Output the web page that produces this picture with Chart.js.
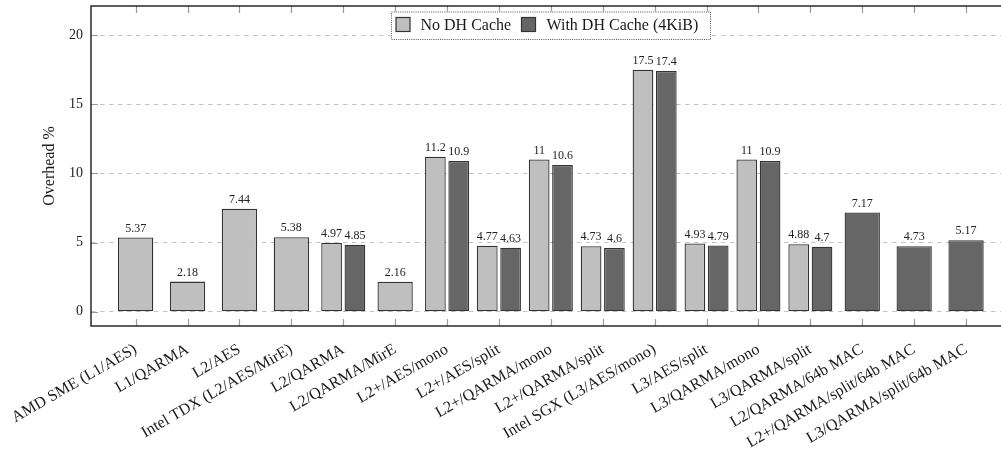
<!DOCTYPE html>
<html>
<head>
<meta charset="utf-8">
<script src="https://cdn.jsdelivr.net/npm/chart.js@4.4.1/dist/chart.umd.min.js"></script>
<style>
  html, body { margin: 0; padding: 0; background: #fff; overflow: hidden; }
  #wrap { width: 1020px; height: 452px; }
</style>
</head>
<body>
<div id="wrap"><canvas id="chart" width="1020" height="452"></canvas></div>
<script>
// categories along the x axis
const categories = [
  'AMD SME (L1/AES)', 'L1/QARMA', 'L2/AES', 'Intel TDX (L2/AES/MirE)', 'L2/QARMA',
  'L2/QARMA/MirE', 'L2+/AES/mono', 'L2+/AES/split', 'L2+/QARMA/mono', 'L2+/QARMA/split',
  'Intel SGX (L3/AES/mono)', 'L3/AES/split', 'L3/QARMA/mono', 'L3/QARMA/split',
  'L2/QARMA/64b MAC', 'L2+/QARMA/split/64b MAC', 'L3/QARMA/split/64b MAC'
];
// overhead % without the DH cache
const noCache = [5.37, 2.18, 7.44, 5.38, 4.97, 2.16, 11.2, 4.77, 11, 4.73, 17.5, 4.93, 11, 4.88, null, null, null];
// overhead % with a 4KiB DH cache
const withCache = [null, null, null, null, 4.85, null, 10.9, 4.63, 10.6, 4.6, 17.4, 4.79, 10.9, 4.7, 7.17, 4.73, 5.17];
const yTicks = [0, 5, 10, 15, 20];

const serif = '"Liberation Serif", "DejaVu Serif", serif';

const toPoints = arr => arr.map((v, i) => ({ x: i, y: v }));

const noPad = s => { s.paddingLeft = 0; s.paddingRight = 0; s.paddingTop = 0; s.paddingBottom = 0; };

// frame, inner tick marks, value labels and legend
const decor = {
  id: 'decor',
  afterDatasetsDraw(chart) {
    const { ctx, chartArea: a, scales: { x, y } } = chart;
    ctx.save();
    // value labels
    ctx.font = '12px ' + serif;
    ctx.fillStyle = '#222';
    ctx.textAlign = 'center';
    ctx.textBaseline = 'bottom';
    chart.data.datasets.forEach((ds, di) => {
      chart.getDatasetMeta(di).data.forEach((bar, i) => {
        const v = ds.data[i].y;
        if (v == null) return;
        ctx.fillText(String(v), bar.x, bar.y - 3);
      });
    });
    // inner tick marks
    ctx.strokeStyle = '#999';
    ctx.lineWidth = 1.2;
    ctx.beginPath();
    categories.forEach((c, i) => {
      const px = Math.round(x.getPixelForValue(i)) + 0.5;
      ctx.moveTo(px, a.bottom); ctx.lineTo(px, a.bottom - 7);
      ctx.moveTo(px, a.top); ctx.lineTo(px, a.top + 7);
    });
    yTicks.forEach(t => {
      const py = Math.round(y.getPixelForValue(t)) + 0.5;
      ctx.moveTo(a.left, py); ctx.lineTo(a.left + 7, py);
      ctx.moveTo(a.right, py); ctx.lineTo(a.right - 7, py);
    });
    ctx.stroke();
    // frame
    ctx.strokeStyle = '#1a1a1a';
    ctx.lineWidth = 1.4;
    ctx.strokeRect(a.left, a.top, a.right - a.left, a.bottom - a.top);
    // legend
    const lx = 391, ly = 11.5, lw = 319, lh = 27.5;
    ctx.fillStyle = '#fff';
    ctx.fillRect(lx, ly, lw, lh);
    ctx.setLineDash([1, 1.2]);
    ctx.strokeStyle = '#555';
    ctx.lineWidth = 1;
    ctx.strokeRect(lx + 0.5, ly + 0.5, lw, lh);
    ctx.setLineDash([]);
    const items = [
      { text: 'No DH Cache', color: '#bfbfbf', sx: 396, tx: 420.5 },
      { text: 'With DH Cache (4KiB)', color: '#666666', sx: 521.5, tx: 546.5 }
    ];
    ctx.font = '16px ' + serif;
    ctx.textAlign = 'left';
    ctx.textBaseline = 'middle';
    items.forEach(it => {
      ctx.fillStyle = it.color;
      ctx.fillRect(it.sx, 17.5, 14, 14);
      ctx.strokeStyle = '#333';
      ctx.lineWidth = 1.2;
      ctx.strokeRect(it.sx, 17.5, 14, 14);
      ctx.fillStyle = '#1a1a1a';
      ctx.fillText(it.text, it.tx, 25.5);
    });
    ctx.restore();
  }
};

const barStyle = {
  borderColor: '#333',
  borderWidth: 1.3,
  borderSkipped: false,
  skipNull: true,
  categoryPercentage: 0.898,
  barPercentage: 0.888,
  maxBarThickness: 35.3
};

new Chart(document.getElementById('chart'), {
  type: 'bar',
  data: {
    datasets: [
      Object.assign({ label: 'No DH Cache', data: toPoints(noCache), backgroundColor: '#bfbfbf' }, barStyle),
      Object.assign({ label: 'With DH Cache (4KiB)', data: toPoints(withCache), backgroundColor: '#666666', borderColor: '#222' }, barStyle)
    ]
  },
  options: {
    responsive: false,
    animation: false,
    devicePixelRatio: 1,
    layout: { padding: { top: 6, right: 9.3, left: 0, bottom: 0 } },
    plugins: { legend: { display: false }, tooltip: { enabled: false } },
    scales: {
      x: {
        type: 'linear',
        offset: false,
        min: -0.86,
        max: 16.86,
        afterBuildTicks: s => { s.ticks = categories.map((c, i) => ({ value: i })); },
        afterFit: s => { s.height = 126; noPad(s); },
        grid: { display: false, offset: false },
        border: { display: false },
        ticks: {
          autoSkip: false,
          minRotation: 30,
          maxRotation: 30,
          padding: 6,
          color: '#1a1a1a',
          font: { family: serif, size: 16 },
          callback: v => categories[v]
        }
      },
      y: {
        min: -1.03,
        max: 22.1,
        afterBuildTicks: s => { s.ticks = yTicks.map(v => ({ value: v })); },
        afterFit: s => { s.width = 91; noPad(s); },
        border: { display: false, dash: [4.5, 4.5] },
        grid: { color: '#c4c4c4', lineWidth: 1, drawTicks: false },
        ticks: {
          padding: 8,
          color: '#222',
          font: { family: serif, size: 14 }
        },
        title: {
          display: true,
          text: 'Overhead %',
          color: '#1a1a1a',
          font: { family: serif, size: 16 },
          padding: { top: 40, bottom: 0 }
        }
      }
    }
  },
  plugins: [decor]
});
</script>
</body>
</html>
